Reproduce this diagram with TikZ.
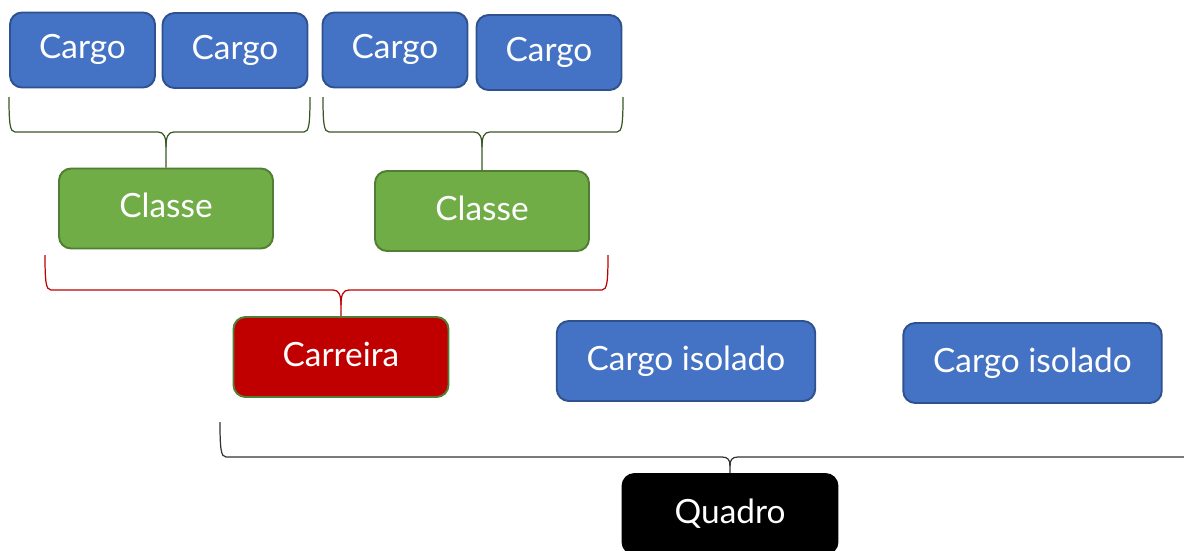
\documentclass[tikz,border=0pt]{standalone}
\usepackage{fontspec}
\setmainfont{Lato}
\definecolor{cargofill}{HTML}{4472C4}
\definecolor{cargoline}{HTML}{2F528F}
\definecolor{classefill}{HTML}{70AD47}
\definecolor{classeline}{HTML}{507E32}
\definecolor{carrfill}{HTML}{C00000}
\definecolor{braceg}{HTML}{385723}
\definecolor{bracer}{HTML}{C00000}
% brace: colour, left x, right x, top y, line y, middle x, parent node, cusp depth
\newcommand{\brc}[8]{%
  \draw[#1, line width=0.7pt] (#2,#4) .. controls (#2,#5-8) and (#2+1,#5) .. (#2+6,#5)
    -- (#6-8,#5) .. controls (#6-2,#5) and (#6,#5+#8/3) .. (#6,#5+#8) -- (#7.north);
  \draw[#1, line width=0.7pt] (#6,#5+#8) .. controls (#6,#5+#8/3) and (#6+2,#5) .. (#6+8,#5)
    -- (#3-6,#5) .. controls (#3-1,#5) and (#3,#5-8) .. (#3,#4);}
\begin{document}
\begin{tikzpicture}[x=0.02cm, y=-0.02cm,
    box/.style={rounded corners=0.24cm, line width=1.1pt, text=white, inner sep=0pt,
      text height=0.5cm, text depth=0.14cm,
      font=\fontsize{19}{23}\selectfont, minimum height=1.6cm},
    cargo/.style={box, fill=cargofill, draw=cargoline, minimum width=2.9cm, minimum height=1.5cm},
    classe/.style={box, fill=classefill, draw=classeline, minimum width=4.28cm},
    carreira/.style={box, fill=carrfill, draw=classeline, minimum width=4.3cm},
    isolado/.style={box, fill=cargofill, draw=cargoline, minimum width=5.17cm},
    quadro/.style={box, fill=black, draw=black, minimum width=4.3cm}]
  \useasboundingbox (0,0) rectangle (1184,551);
  \node (c1) at (82.5,50) [cargo] {Cargo};
  \node (c2) at (235,50.5) [cargo] {Cargo};
  \node (c3) at (395,50) [cargo] {Cargo};
  \node (c4) at (549,52.5) [cargo] {Cargo};
  \node (cl1) at (166,208.5) [classe] {Classe};
  \node (cl2) at (482,211) [classe] {Classe};
  \node (car) at (341,357) [carreira] {Carreira};
  \node (iso1) at (686,361) [isolado] {Cargo isolado};
  \node (iso2) at (1032.5,363) [isolado] {Cargo isolado};
  \node (q) at (730,514) [quadro] {Quadro};
  \brc{braceg}{9}{310}{97}{132}{166}{cl1}{15}
  \brc{braceg}{323}{623}{97}{132}{482}{cl2}{15}
  \brc{bracer}{45}{608}{255}{290}{341}{car}{15}
  \brc{black!80}{220}{1260}{422}{457}{730}{q}{9}
\end{tikzpicture}
\end{document}
